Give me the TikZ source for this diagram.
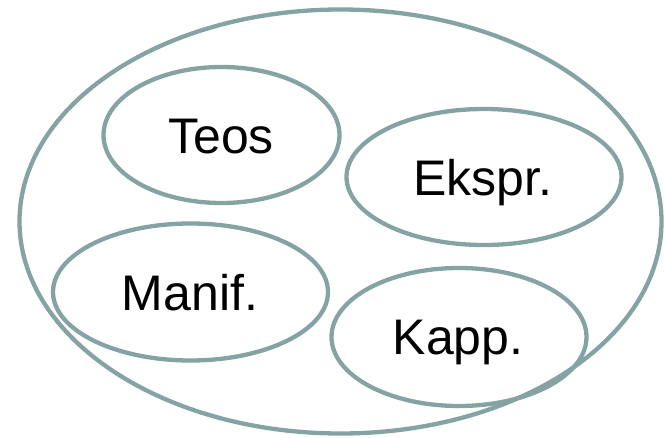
\documentclass[tikz,border=0pt]{standalone}
\usepackage{fontspec}
\setmainfont{Liberation Sans}
\definecolor{ringcol}{RGB}{133,163,163}
\begin{document}
\begin{tikzpicture}[x=1pt,y=-1pt,
  ring/.style={draw=ringcol,line width=4.3pt},
  lbl/.style={anchor=base,inner sep=0pt,font=\fontsize{50}{50}\selectfont,text=black}]
\useasboundingbox (0,0) rectangle (664,438);
\draw[ring] (340.5,221.5) ellipse [x radius=321, y radius=212];
\draw[ring] (221.5,135) ellipse [x radius=118, y radius=68];
\draw[ring] (484,177) ellipse [x radius=137.5, y radius=68];
\draw[ring] (190.5,292) ellipse [x radius=137.5, y radius=68.5];
\draw[ring] (459,337) ellipse [x radius=127.5, y radius=69];
\node[lbl] (teos) at (221,154) {Teos};
\node[lbl] (ekspr) at (483,196) {Ekspr.};
\node[lbl] (manif) at (190,311) {Manif.};
\node[lbl] (kapp) at (458,355) {Kapp.};
\end{tikzpicture}
\end{document}
